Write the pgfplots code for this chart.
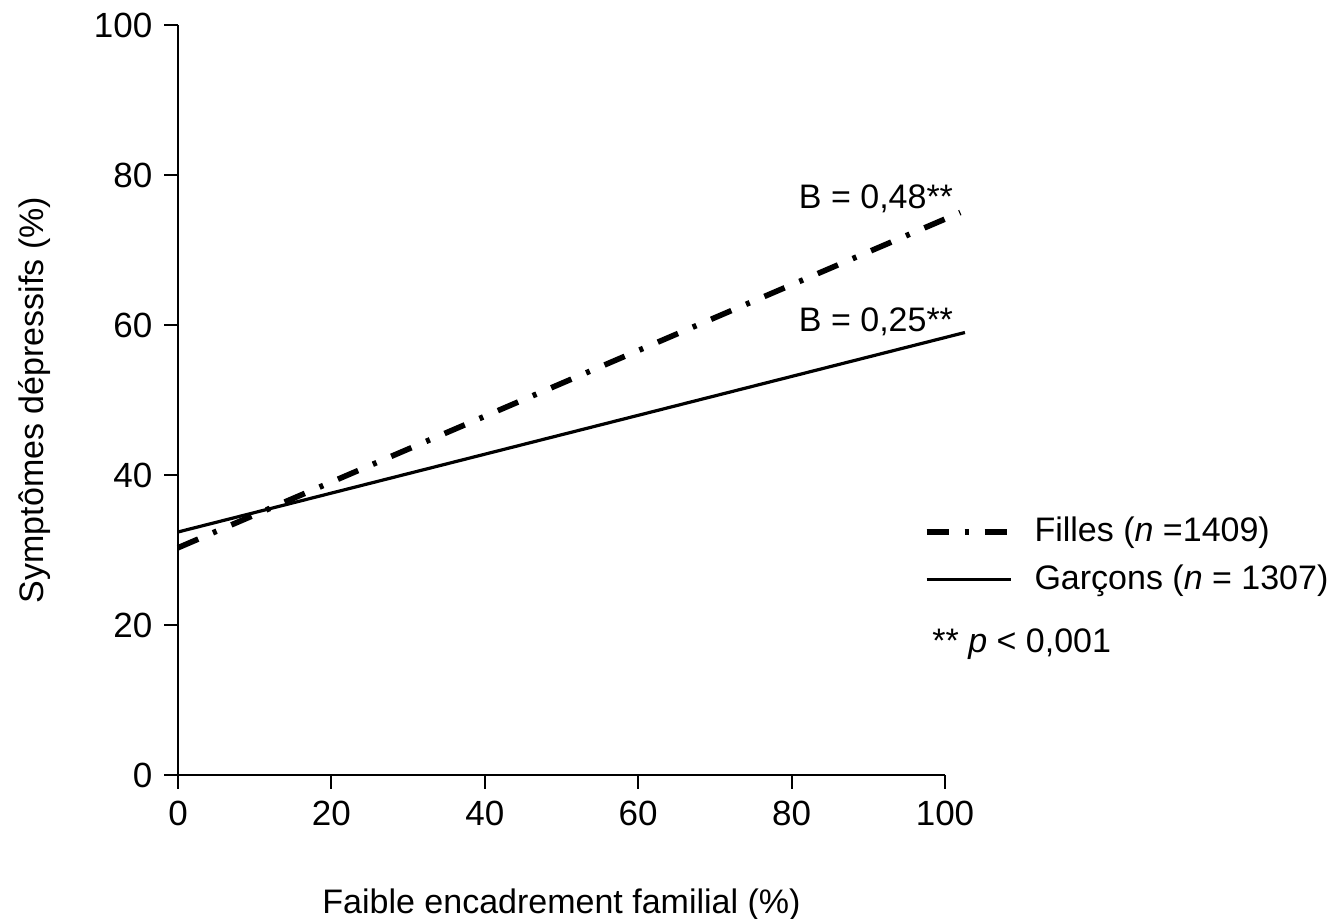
\documentclass[border=0pt]{standalone}
\usepackage{fontspec}
\setmainfont{Liberation Sans}
\usepackage{pgfplots}
\pgfplotsset{compat=1.18}
\begin{document}
\fontsize{17}{20}\selectfont
\begin{tikzpicture}
\path[use as bounding box] (0,0) rectangle (667pt,459.5pt);
\begin{axis}[
  at={(89pt,72pt)}, anchor=south west,
  scale only axis, width=383.5pt, height=375pt,
  xmin=0, xmax=100, ymin=0, ymax=100,
  axis x line=bottom, axis y line=left,
  axis line style={-, line width=1pt},
  every tick/.style={black, line width=1pt},
  tick align=outside, major tick length=7pt,
  xtick={0,20,...,100}, ytick={0,20,...,100},
  /pgf/number format/assume math mode=true,
  tick label style={font=\fontsize{17.5}{20}\selectfont},
  label style={font=\fontsize{17}{20}\selectfont},
  xlabel={Faible encadrement familial (\%)},
  ylabel={Symptômes dépressifs (\%)},
  xlabel style={yshift=-20pt},
  ylabel style={yshift=10pt},
  clip=false,
  legend style={draw=none, fill=none, at={(0.972,0.35)}, anchor=north west,
    font=\fontsize{17}{20}\selectfont, row sep=5pt, inner sep=0pt,
    /tikz/every odd column/.append style={column sep=8.5pt}},
  legend cell align=left,
  legend image code/.code={\draw[#1] (0pt,0pt) -- (42pt,0pt);},
]
\addplot[black, line width=2.8pt, dash pattern=on 11pt off 8pt on 2pt off 8pt] coordinates {(0,30.3) (102,75)};
\addlegendentry{Filles (\textit{n} =1409)}
\addplot[black, line width=1.6pt] coordinates {(0,32.4) (102.6,59)};
\addlegendentry{Garçons (\textit{n} = 1307)}
\node[anchor=center, inner sep=0pt] at (axis cs:91,76.8) {B = 0,48**};
\node[anchor=center, inner sep=0pt] at (axis cs:91,60.4) {B = 0,25**};
\node[anchor=west, inner sep=0pt] at (axis cs:98.3,17.5) {** \textit{p} < 0,001};
\end{axis}
\end{tikzpicture}
\end{document}
